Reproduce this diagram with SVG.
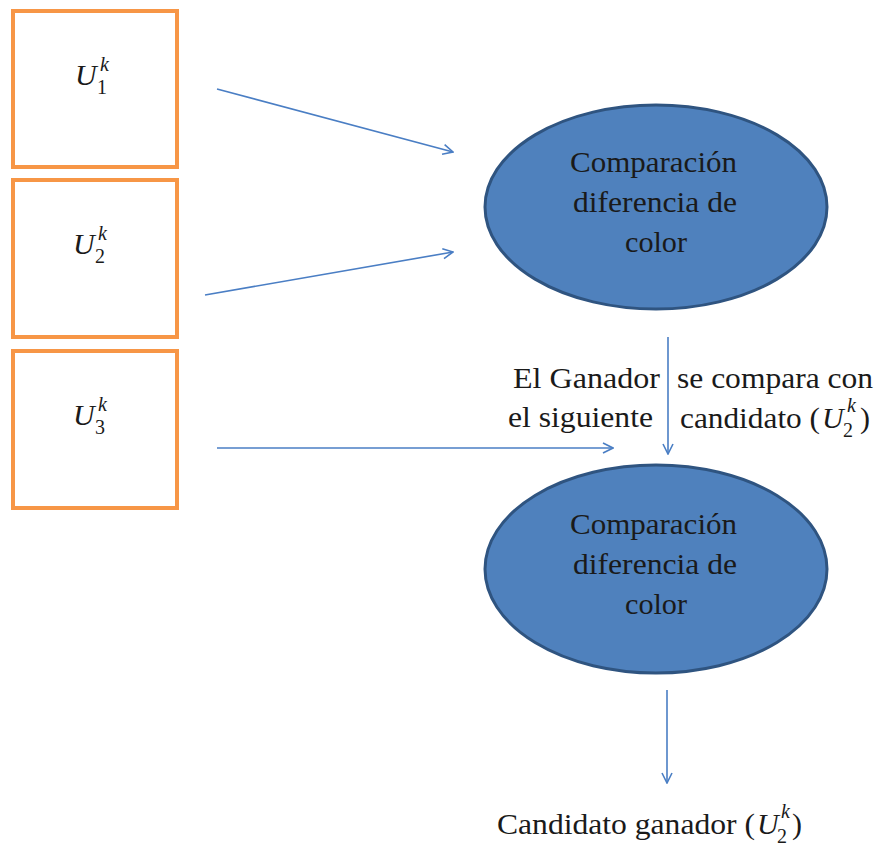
<svg xmlns="http://www.w3.org/2000/svg" width="880" height="848" viewBox="0 0 880 848">
  <style>
    .box { fill: #ffffff; stroke: #F79646; stroke-width: 4; }
    .ell { fill: #4F81BD; stroke: #2F5480; stroke-width: 3; }
    .conn { stroke: #4A7EC4; stroke-width: 1.6; fill: none; marker-end: url(#arr); }
    text { font-family: "Liberation Serif", serif; fill: #1a1a1a; font-weight: 400; }
    .t { font-size: 30px; }
    .it { font-style: italic; }
    .s { font-size: 20px; }
  </style>
  <defs>
    <marker id="arr" viewBox="0 0 12 12" refX="11" refY="6" markerWidth="12" markerHeight="12" markerUnits="userSpaceOnUse" orient="auto">
      <path d="M1,1 L11,6 L1,11" fill="none" stroke="#4A7EC4" stroke-width="1.6"/>
    </marker>
  </defs>

  <g id="u1">
    <rect class="box" x="13" y="11" width="164" height="156"/>
    <text class="t it" x="75" y="85">U</text>
    <text class="s" x="97" y="94">1</text>
    <text class="s it" x="100" y="71">k</text>
  </g>
  <g id="u2">
    <rect class="box" x="13" y="180" width="164" height="157"/>
    <text class="t it" x="73" y="254">U</text>
    <text class="s" x="95" y="263">2</text>
    <text class="s it" x="98" y="240">k</text>
  </g>
  <g id="u3">
    <rect class="box" x="13" y="351" width="164" height="157"/>
    <text class="t it" x="73" y="425">U</text>
    <text class="s" x="95" y="434">3</text>
    <text class="s it" x="98" y="411">k</text>
  </g>

  <g id="cmp1">
    <ellipse class="ell" cx="656" cy="207" rx="171" ry="102"/>
    <text class="t" x="570" y="172" textLength="167" lengthAdjust="spacingAndGlyphs">Comparación</text>
    <text class="t" x="573" y="212" textLength="164" lengthAdjust="spacingAndGlyphs">diferencia de</text>
    <text class="t" x="625" y="252" textLength="62" lengthAdjust="spacingAndGlyphs">color</text>
  </g>
  <g id="cmp2">
    <ellipse class="ell" cx="656" cy="569" rx="171" ry="104"/>
    <text class="t" x="570" y="534" textLength="167" lengthAdjust="spacingAndGlyphs">Comparación</text>
    <text class="t" x="573" y="574" textLength="164" lengthAdjust="spacingAndGlyphs">diferencia de</text>
    <text class="t" x="625" y="614" textLength="62" lengthAdjust="spacingAndGlyphs">color</text>
  </g>

  <g id="label-mid">
    <text class="t" x="513" y="388" textLength="147" lengthAdjust="spacingAndGlyphs">El Ganador</text>
    <text class="t" x="508" y="427" textLength="145" lengthAdjust="spacingAndGlyphs">el siguiente</text>
    <text class="t" x="677" y="388" textLength="196" lengthAdjust="spacingAndGlyphs">se compara con</text>
    <text class="t" x="680" y="428" textLength="140" lengthAdjust="spacingAndGlyphs">candidato (</text>
    <text class="t it" x="822" y="428">U</text>
    <text class="s" x="843" y="437">2</text>
    <text class="s it" x="847" y="412">k</text>
    <text class="t" x="860" y="428">)</text>
  </g>

  <g id="result">
    <text class="t" x="497" y="834" textLength="258" lengthAdjust="spacingAndGlyphs">Candidato ganador (</text>
    <text class="t it" x="757" y="834">U</text>
    <text class="s" x="777" y="843">2</text>
    <text class="s it" x="781" y="818">k</text>
    <text class="t" x="792" y="834">)</text>
  </g>

  <g id="connectors">
    <line class="conn" x1="217" y1="89" x2="453" y2="152"/>
    <line class="conn" x1="205" y1="295" x2="453" y2="252"/>
    <line class="conn" x1="217" y1="448" x2="613" y2="448"/>
    <line class="conn" x1="668" y1="337" x2="668" y2="454"/>
    <line class="conn" x1="667" y1="690" x2="667" y2="783"/>
  </g>
</svg>
